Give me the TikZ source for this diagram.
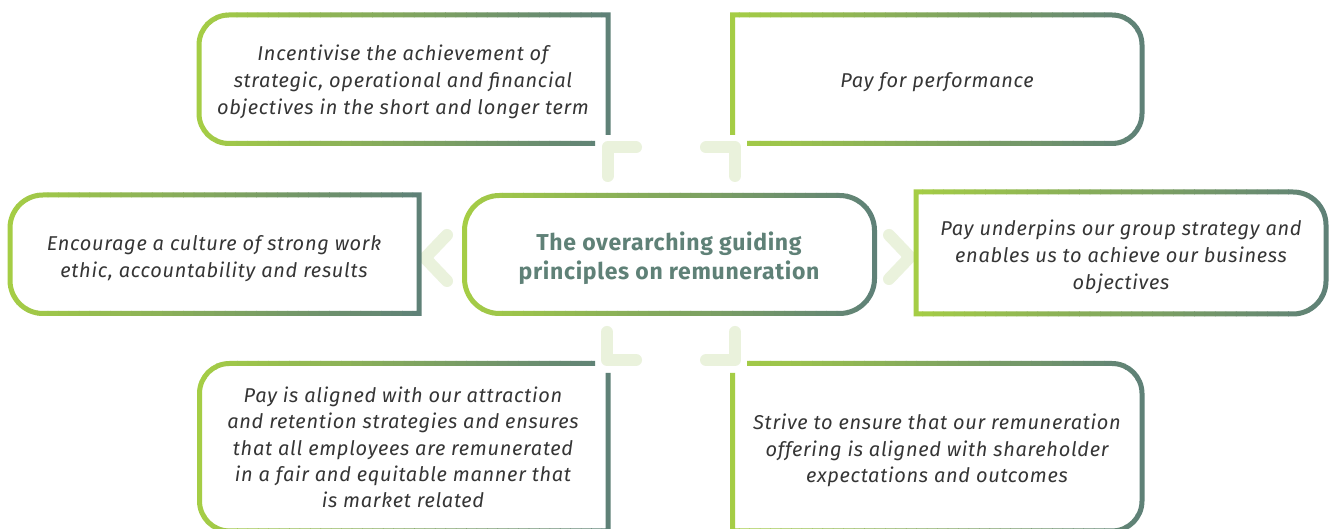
\documentclass[tikz,border=0pt]{standalone}
\usepackage{fontspec}
\setmainfont{Fira Sans}
\newfontfamily\bodyfont[LetterSpace=3.5]{Fira Sans}
\newfontfamily\titlefont[LetterSpace=3]{Fira Sans}
\definecolor{gA}{HTML}{A5CD45}
\definecolor{gB}{HTML}{5F8177}
\definecolor{pale}{HTML}{EAF2DC}
\definecolor{txt}{HTML}{353535}
\definecolor{ttl}{HTML}{5F8177}
\tikzset{
  bd/.style={line width=5pt, line join=miter},
  palemark/.style={draw=pale, line width=12pt, line cap=round, line join=round},
  body/.style={font=\bodyfont\fontsize{20}{26.8}\selectfont\itshape, text=txt, align=center, inner sep=0pt},
  bodytight/.style={body, font=\bodyfont\fontsize{20}{26.4}\selectfont\itshape},
  title/.style={font=\titlefont\fontsize{23}{29}\selectfont\bfseries, text=ttl, align=center, inner sep=0pt}
}
\newcommand{\gborder}[3]{%
  \pgfmathsetmacro{\stepw}{(#2-#1+8)/40}%
  \foreach \i in {0,...,39}{%
    \pgfmathsetmacro{\xa}{#1-4+\stepw*\i}%
    \pgfmathsetmacro{\xb}{\xa+\stepw+0.6}%
    \pgfmathtruncatemacro{\pc}{100-\i*100/39}%
    \begin{scope}
      \clip (\xa,-10) rectangle (\xb,540);
      \draw[bd, draw=gA!\pc!gB] #3;
    \end{scope}
  }}
\begin{document}
\begin{tikzpicture}[x=1pt,y=1pt]
\useasboundingbox[fill=white] (0,0) rectangle (1330,529);
% pale corner marks
\draw[palemark] (636,381.5) -- (607.5,381.5) -- (607.5,353);
\draw[palemark] (706,381.5) -- (735,381.5) -- (735,353);
\draw[palemark] (607,197) -- (607,169) -- (636,169);
\draw[palemark] (735,197) -- (735,169) -- (706,169);
% chevrons
\draw[palemark] (447,294) -- (425,271) -- (447,248);
\draw[palemark] (889,294) -- (910,272) -- (889,250);
% borders
\gborder{199}{608}{(608,394) -- (608,514) -- (229,514) arc[start angle=90,end angle=180,radius=30] -- (199,415.5) arc[start angle=180,end angle=270,radius=30] -- (595,385.5)}
\gborder{732.5}{1142}{(747,385.5) -- (1112,385.5) arc[start angle=-90,end angle=0,radius=30] -- (1142,484) arc[start angle=0,end angle=90,radius=30] -- (732.5,514) -- (732.5,394)}
\gborder{10}{419}{(419,215.5) -- (419,334) -- (43,334) arc[start angle=90,end angle=180,radius=33] -- (10,248.5) arc[start angle=180,end angle=270,radius=33] -- cycle}
\gborder{464.5}{874.5}{[rounded corners=35pt] (464.5,215.5) rectangle (874.5,333.5)}
\gborder{916}{1326}{(916,215) -- (916,337) -- (1293,337) arc[start angle=90,end angle=0,radius=33] -- (1326,248) arc[start angle=0,end angle=-90,radius=33] -- cycle}
\gborder{199.5}{608}{(595,165.5) -- (229.5,165.5) arc[start angle=90,end angle=180,radius=30] -- (199.5,28) arc[start angle=180,end angle=270,radius=30] -- (608,-2) -- (608,156)}
\gborder{732.5}{1142}{(747,165.5) -- (1112,165.5) arc[start angle=90,end angle=0,radius=30] -- (1142,28) arc[start angle=0,end angle=-90,radius=30] -- (732.5,-2) -- (732.5,156)}
% texts
\node[body] (tl) at (403,447) {Incentivise the achievement of\\strategic, operational and financial\\objectives in the short and longer term};
\node[body] (tr) at (937,447) {Pay for performance};
\node[body] (ml) at (214,270) {Encourage a culture of strong work\\ethic, accountability and results};
\node[title] (c) at (669,270.5) {The overarching guiding\\principles on remuneration};
\node[body] (mr) at (1121,272) {Pay underpins our group strategy and\\enables us to achieve our business\\objectives};
\node[bodytight] (bl) at (403,81.5) {Pay is aligned with our attraction\\and retention strategies and ensures\\that all employees are remunerated\\in a fair and equitable manner that\\is market related};
\node[bodytight] (br) at (937,78.5) {Strive to ensure that our remuneration\\offering is aligned with shareholder\\expectations and outcomes};
\end{tikzpicture}
\end{document}
